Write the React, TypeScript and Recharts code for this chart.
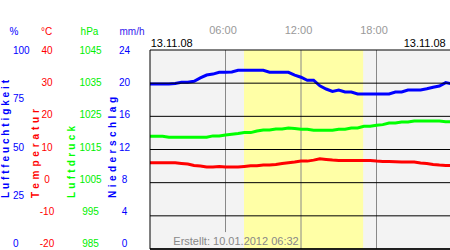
import React from 'react';
import { ComposedChart, Line, XAxis, YAxis, CartesianGrid, ReferenceArea, ReferenceLine } from 'recharts';

// half-hourly readings of 13.11.08
const hours = [
  0, 0.5, 1, 1.5, 2, 2.5, 3, 3.5, 4, 4.5, 5, 5.5, 6, 6.5, 7, 7.5, 8, 8.5, 9, 9.5, 10, 10.5, 11, 11.5,
  12, 12.5, 13, 13.5, 14, 14.5, 15, 15.5, 16, 16.5, 17, 17.5, 18, 18.5, 19, 19.5, 20, 20.5, 21, 21.5,
  22, 22.5, 23, 23.5, 24,
];
const humidity = [
  82.9, 82.9, 82.9, 82.9, 83.2, 83.8, 83.8, 84.3, 86.0, 87.4, 87.9, 88.8, 88.8, 89.0, 89.8, 89.8,
  89.8, 89.8, 89.8, 88.8, 88.8, 88.8, 88.8, 87.4, 86.3, 84.8, 84.8, 82.0, 80.4, 79.2, 79.9, 78.9,
  78.9, 77.9, 77.9, 77.9, 77.9, 77.9, 77.9, 78.9, 78.9, 79.9, 79.9, 79.9, 80.5, 81.3, 81.9, 83.6, 82.9,
];
const temperature = [
  6.0, 6.0, 6.0, 6.0, 6.0, 5.8, 5.6, 5.2, 5.0, 4.7, 4.7, 4.9, 4.7, 4.7, 4.7, 4.9, 5.1, 5.1, 5.3,
  5.3, 5.5, 5.8, 6.0, 6.2, 6.5, 6.5, 6.8, 7.2, 7.0, 6.8, 6.7, 6.7, 6.7, 6.7, 6.7, 6.7, 6.5, 6.4,
  6.4, 6.3, 6.2, 6.2, 6.2, 5.9, 5.8, 5.5, 5.3, 5.2, 5.2,
];
const pressure = [
  1019.0, 1019.0, 1019.0, 1018.7, 1018.7, 1018.7, 1018.7, 1018.7, 1018.7, 1018.7, 1019.1, 1019.1,
  1019.4, 1019.6, 1019.8, 1020.1, 1020.1, 1020.6, 1020.9, 1020.9, 1021.2, 1021.2, 1021.5, 1021.3,
  1021.1, 1021.1, 1020.8, 1020.8, 1020.8, 1020.8, 1021.1, 1021.1, 1021.5, 1021.5, 1022.0, 1022.0,
  1022.3, 1022.5, 1023.0, 1023.0, 1023.3, 1023.3, 1023.6, 1023.6, 1023.6, 1023.6, 1023.6, 1023.4, 1023.4,
];

const humidityTicks = [0, 25, 50, 75, 100];
const tempTicks = [-20, -10, 0, 10, 20, 30, 40];
const pressureTicks = [985, 995, 1005, 1015, 1025, 1035, 1045];
const rainTicks = [0, 4, 8, 12, 16, 20, 24];
const hourTicks = [6, 12, 18];
const hourLabels = ['06:00', '12:00', '18:00'];
const sunrise = 7.47;
const sunset = 16.94;
const dateLabel = '13.11.08';
const createdLabel = 'Erstellt: 10.01.2012 06:32';

const BLUE = '#0000ff';
const RED = '#ff0000';
const GREEN = '#00ee00';

// axis ids: recharts stacks left axes by id, "a" sits next to the plot
const RAIN = 'a';
const PRES = 'b';
const TEMP = 'c';
const HUM = 'd';

const data = hours.map((h, i) => ({
  h,
  humidity: humidity[i],
  temperature: temperature[i],
  pressure: pressure[i],
}));

// tick labels sit slightly above the grid lines in the original
const ValueTick = (props: any) => {
  const { x, y, payload, color, anchor } = props;
  return (
    <text x={x} y={50.7 + (y - 50) * 0.968} dy="0.35em" textAnchor={anchor} fill={color} fontSize={10}>
      {payload.value}
    </text>
  );
};

const HourTick = (props: any) => {
  const { x, payload } = props;
  const idx = hourTicks.indexOf(payload.value);
  return (
    <text x={x - 2.5} y={34} textAnchor="middle" fill="#999999" fontSize={11}>
      {hourLabels[idx]}
    </text>
  );
};

const Title = ({ x, len, color, text }: { x: number; len: number; color: string; text: string }) => (
  <text
    transform={`translate(${x},198) rotate(-90)`}
    fill={color}
    fontSize={10}
    fontWeight="bold"
    textLength={len}
    lengthAdjust="spacing"
  >
    {text}
  </text>
);

const App = () => {
  return (
    <div
      style={{
        position: 'absolute',
        left: 0,
        top: 0,
        width: 450,
        height: 250,
        overflow: 'hidden',
        background: '#fff',
        fontFamily: '"Liberation Sans", Arial, sans-serif',
      }}
    >
      <ComposedChart width={453} height={250} data={data} margin={{ top: 20, right: 1, bottom: 1, left: 0 }}>
        <XAxis
          dataKey="h"
          type="number"
          domain={[0, 24]}
          ticks={hourTicks}
          orientation="top"
          height={30}
          axisLine={false}
          tickLine={false}
          tickSize={0}
          interval={0}
          tick={<HourTick />}
        />
        <YAxis yAxisId={RAIN} domain={[0, 24]} ticks={rainTicks} width={40} axisLine={false} tickLine={false}
          tickSize={0} tickMargin={25.5} interval={0} allowDataOverflow tick={<ValueTick color={BLUE} anchor="middle" />} />
        <YAxis yAxisId={PRES} domain={[985, 1045]} ticks={pressureTicks} width={50} axisLine={false} tickLine={false}
          tickSize={0} tickMargin={19.5} interval={0} allowDataOverflow tick={<ValueTick color={GREEN} anchor="middle" />} />
        <YAxis yAxisId={TEMP} domain={[-20, 40]} ticks={tempTicks} width={30} axisLine={false} tickLine={false}
          tickSize={0} tickMargin={13} interval={0} allowDataOverflow tick={<ValueTick color={RED} anchor="middle" />} />
        <YAxis yAxisId={HUM} domain={[0, 100]} ticks={humidityTicks} width={30} axisLine={false} tickLine={false}
          tickSize={0} tickMargin={17} interval={0} allowDataOverflow tick={<ValueTick color={BLUE} anchor="start" />} />

        <ReferenceArea yAxisId={HUM} x1={0} x2={24} fill="#f3f3f3" fillOpacity={1} stroke="none" zIndex={-300} />
        <ReferenceArea yAxisId={HUM} x1={sunrise} x2={sunset} fill="#ffffa6" fillOpacity={1} stroke="none" zIndex={-250} />
        <ReferenceLine yAxisId={HUM} segment={[{ x: 6, y: 8.5 }, { x: 6, y: 100 }]} stroke="#888888" zIndex={-150} />
        <ReferenceLine yAxisId={HUM} x={12} stroke="#888888" zIndex={-150} />
        <ReferenceLine yAxisId={HUM} x={18} stroke="#888888" zIndex={-150} />

        <Line yAxisId={HUM} dataKey="humidity" stroke={BLUE} strokeWidth={3} dot={false} type="linear" isAnimationActive={false} />
        <Line yAxisId={PRES} dataKey="pressure" stroke="#00ff00" strokeWidth={3} dot={false} type="linear" isAnimationActive={false} />
        <Line yAxisId={TEMP} dataKey="temperature" stroke={RED} strokeWidth={3} dot={false} type="linear" isAnimationActive={false} />

        <CartesianGrid yAxisId={TEMP} vertical={false} stroke="#000000" strokeDasharray="" fill="none" zIndex={450} />
        <ReferenceLine yAxisId={HUM} x={0} stroke="#000000" zIndex={460} />
        <ReferenceLine yAxisId={TEMP} y={-20} stroke="#000000" strokeWidth={1.5} zIndex={460} />
      </ComposedChart>

      <svg width={450} height={250} style={{ position: 'absolute', left: 0, top: 0, pointerEvents: 'none' }}>
        <text x={14} y={35} textAnchor="middle" fill={BLUE} fontSize={10}>%</text>
        <text x={46.7} y={35} textAnchor="middle" fill={RED} fontSize={10}>°C</text>
        <text x={89.5} y={35} textAnchor="middle" fill={GREEN} fontSize={10}>hPa</text>
        <text x={132} y={35} textAnchor="middle" fill="#3322ee" fontSize={10}>mm/h</text>
        <Title x={8.5} len={118} color={BLUE} text="Luftfeuchtigkeit" />
        <Title x={38.5} len={89} color={RED} text="Temperatur" />
        <Title x={75} len={72} color="#00ff00" text="Luftdruck" />
        <Title x={116} len={101} color={BLUE} text="Niederschlag" />
        <text x={150.7} y={47} fill="#000000" fontSize={11}>{dateLabel}</text>
        <text x={445.7} y={47} textAnchor="end" fill="#000000" fontSize={11}>{dateLabel}</text>
        <text x={236} y={244.5} textAnchor="middle" fill="#888888" fontSize={11}>{createdLabel}</text>
      </svg>
    </div>
  );
};

export default App;
